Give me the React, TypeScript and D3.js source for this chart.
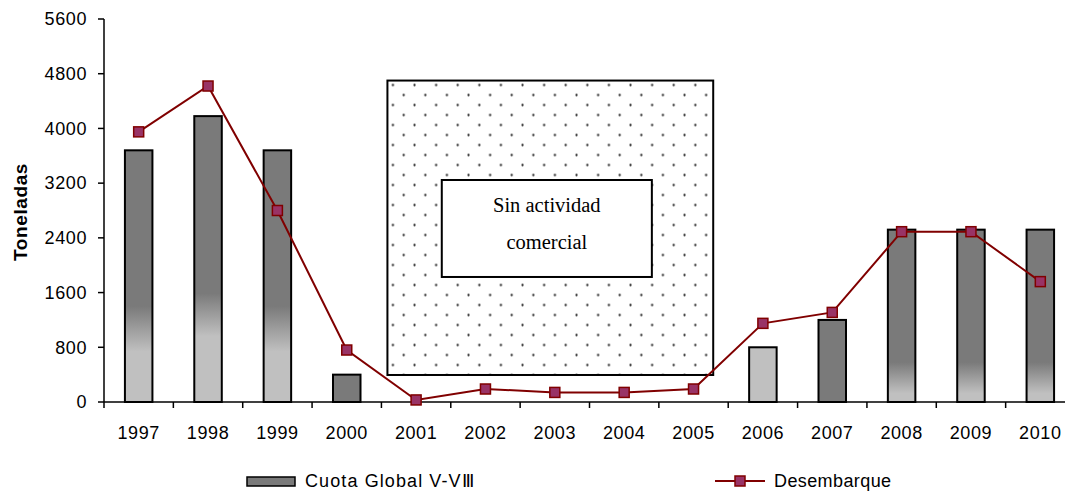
import React from "react";
import * as d3 from "d3";

const years = ["1997","1998","1999","2000","2001","2002","2003","2004","2005","2006","2007","2008","2009","2010"];
const cuota: (number | null)[] = [3680, 4180, 3680, 400, null, null, null, null, null, 800, 1200, 2520, 2520, 2520];
const desembarque = [3950, 4620, 2800, 760, 30, 190, 140, 140, 190, 1150, 1310, 2490, 2490, 1760];
const yTicks = [0, 800, 1600, 2400, 3200, 4000, 4800, 5600];
const boxLabel = ["Sin actividad", "comercial"];
const seriesNames = ["Cuota Global V-VⅢ", "Desembarque"];

// gradient style per bar: [darkEnd, lightStart] in bar-relative fraction
const barShade: ([number, number] | "dark" | "light")[] = [
  [0.62, 0.8], [0.62, 0.77], [0.62, 0.8], "dark", "dark", "dark", "dark", "dark", "dark", "light", "dark",
  [0.77, 0.95], [0.77, 0.95], [0.77, 0.95],
];

const W = 1065, H = 491;
const left = 104, right = 1075, top = 19, bottom = 402;
const DARK = "#7a7a7a", LIGHT = "#c0c0c0";
const font = "'Liberation Sans', Arial, sans-serif";

export default function App() {
  const x = d3.scaleBand<string>().domain(years).range([left, right]).paddingInner(0).paddingOuter(0);
  const y = d3.scaleLinear().domain([0, 5600]).range([bottom, top]);
  const bw = x.bandwidth();
  const barW = 27.5;
  const cx = (yr: string) => (x(yr) as number) + bw / 2;

  const line = d3.line<number>().x((_, i) => cx(years[i])).y((d) => y(d));

  const boxX0 = (x("2001") as number) + 6;
  const boxX1 = (x("2005") as number) + bw - 15;
  const boxY0 = y(4700), boxY1 = y(395);
  const innerX0 = (x("2002") as number) - 9;
  const innerX1 = (x("2004") as number) + bw - 7;
  const innerY0 = y(3246), innerY1 = y(1828);

  return (
    <svg width={W} height={H} style={{ position: "absolute", left: 0, top: 0 }}>
      <defs>
        <pattern id="dots" width="21.6" height="20" patternUnits="userSpaceOnUse" x={boxX0 + 4} y={boxY0 + 3}>
          <circle cx="1.5" cy="1.5" r="1.15" fill="#222" />
          <circle cx="12.3" cy="11.5" r="1.15" fill="#222" />
        </pattern>
        {barShade.map((s, i) =>
          Array.isArray(s) ? (
            <linearGradient key={i} id={`g${i}`} x1="0" y1="0" x2="0" y2="1">
              <stop offset={s[0]} stopColor={DARK} />
              <stop offset={s[1]} stopColor={LIGHT} />
            </linearGradient>
          ) : null
        )}
      </defs>
      <rect width={W} height={H} fill="#fff" />

      {/* bars */}
      {cuota.map((v, i) => {
        if (v == null) return null;
        const s = barShade[i];
        const fill = Array.isArray(s) ? `url(#g${i})` : s === "dark" ? DARK : LIGHT;
        return (
          <rect key={i} x={cx(years[i]) - barW / 2} y={y(v)} width={barW} height={bottom - y(v)}
            fill={fill} stroke="#000" strokeWidth={2} />
        );
      })}

      {/* dotted box */}
      <rect x={boxX0} y={boxY0} width={boxX1 - boxX0} height={boxY1 - boxY0} fill="url(#dots)" stroke="#000" strokeWidth={2} />
      <rect x={innerX0} y={innerY0} width={innerX1 - innerX0} height={innerY1 - innerY0} fill="#fff" stroke="#000" strokeWidth={2} />
      {boxLabel.map((t, i) => (
        <text key={i} x={(innerX0 + innerX1) / 2} y={212 + i * 37} textAnchor="middle"
          fontFamily="'Liberation Serif', 'Times New Roman', serif" fontSize={20.5} fill="#000">{t}</text>
      ))}

      {/* axes */}
      <line x1={left} y1={top} x2={left} y2={bottom} stroke="#000" strokeWidth={1.5} />
      <line x1={left} y1={bottom} x2={right} y2={bottom} stroke="#000" strokeWidth={1.5} />
      {yTicks.map((t) => (
        <g key={t}>
          <line x1={left - 6} x2={left} y1={y(t)} y2={y(t)} stroke="#000" strokeWidth={1.5} />
          <text x={left - 17} y={y(t)} dy="0.35em" textAnchor="end" fontFamily={font} fontSize={18} letterSpacing={0.6} fill="#000">{t}</text>
        </g>
      ))}
      {years.map((yr) => (
        <line key={yr} x1={(x(yr) as number)} x2={(x(yr) as number)} y1={bottom} y2={bottom + 6} stroke="#000" strokeWidth={1.5} />
      ))}
      {years.map((yr) => (
        <text key={yr} x={cx(yr)} y={433} dy="0.35em" textAnchor="middle" fontFamily={font} fontSize={18} letterSpacing={0.6} fill="#000">{yr}</text>
      ))}
      <text transform={`translate(20,212) rotate(-90)`} textAnchor="middle" dy="0.35em"
        fontFamily={font} fontSize={19} fontWeight="bold" letterSpacing={0.6} fill="#000">Toneladas</text>

      {/* line */}
      <path d={line(desembarque) || ""} fill="none" stroke="#800000" strokeWidth={2} />
      {desembarque.map((v, i) => (
        <rect key={i} x={cx(years[i]) - 5} y={y(v) - 5} width={10} height={10} fill="#993366" stroke="#800000" strokeWidth={1.5} />
      ))}

      {/* legend */}
      <rect x={247} y={477} width={48} height={9} fill={DARK} stroke="#000" strokeWidth={1.5} />
      <text x={305} y={481} dy="0.35em" fontFamily={font} fontSize={18} letterSpacing={1.1} fill="#000">{seriesNames[0]}</text>
      <line x1={715} x2={765} y1={481} y2={481} stroke="#800000" strokeWidth={2} />
      <rect x={735} y={476} width={10} height={10} fill="#993366" stroke="#800000" strokeWidth={1.5} />
      <text x={774} y={481} dy="0.35em" fontFamily={font} fontSize={18} letterSpacing={0.4} fill="#000">{seriesNames[1]}</text>
    </svg>
  );
}
